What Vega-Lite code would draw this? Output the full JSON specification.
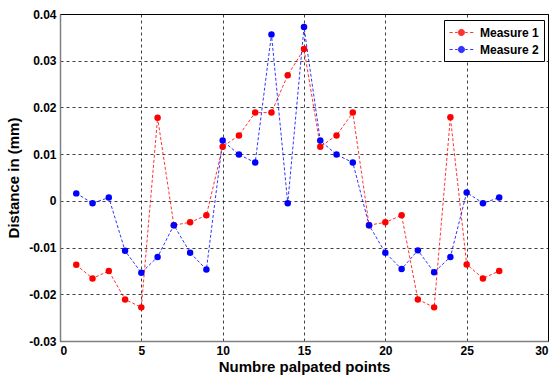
{
  "$schema": "https://vega.github.io/schema/vega-lite/v6.json",
  "width": 488,
  "height": 327,
  "autosize": {"type": "none"},
  "padding": {"left": 60, "top": 14, "right": 9, "bottom": 42},
  "background": "white",
  "config": {
    "font": "Liberation Sans",
    "view": {"stroke": "#000000", "strokeWidth": 1},
    "axis": {
      "labelFont": "Liberation Sans",
      "labelFontWeight": "bold",
      "labelFontSize": 12,
      "labelColor": "#000000",
      "titleFont": "Liberation Sans",
      "titleFontWeight": "bold",
      "titleFontSize": 15,
      "titleColor": "#000000",
      "domainColor": "#808080",
      "domainWidth": 1.5,
      "ticks": false,
      "grid": true,
      "gridColor": "#000000",
      "gridDash": [3, 3],
      "gridOpacity": 0.75,
      "gridWidth": 1
    }
  },
  "data": {
    "values": [
      {"x": 1, "y": -0.0137, "series": "Measure 1"},
      {"x": 2, "y": -0.0166, "series": "Measure 1"},
      {"x": 3, "y": -0.0150, "series": "Measure 1"},
      {"x": 4, "y": -0.0211, "series": "Measure 1"},
      {"x": 5, "y": -0.0228, "series": "Measure 1"},
      {"x": 6, "y": 0.0178, "series": "Measure 1"},
      {"x": 7, "y": -0.0052, "series": "Measure 1"},
      {"x": 8, "y": -0.0046, "series": "Measure 1"},
      {"x": 9, "y": -0.0031, "series": "Measure 1"},
      {"x": 10, "y": 0.0116, "series": "Measure 1"},
      {"x": 11, "y": 0.0140, "series": "Measure 1"},
      {"x": 12, "y": 0.0189, "series": "Measure 1"},
      {"x": 13, "y": 0.0189, "series": "Measure 1"},
      {"x": 14, "y": 0.0269, "series": "Measure 1"},
      {"x": 15, "y": 0.0325, "series": "Measure 1"},
      {"x": 16, "y": 0.0116, "series": "Measure 1"},
      {"x": 17, "y": 0.0140, "series": "Measure 1"},
      {"x": 18, "y": 0.0189, "series": "Measure 1"},
      {"x": 19, "y": -0.0052, "series": "Measure 1"},
      {"x": 20, "y": -0.0046, "series": "Measure 1"},
      {"x": 21, "y": -0.0031, "series": "Measure 1"},
      {"x": 22, "y": -0.0211, "series": "Measure 1"},
      {"x": 23, "y": -0.0228, "series": "Measure 1"},
      {"x": 24, "y": 0.0179, "series": "Measure 1"},
      {"x": 25, "y": -0.0136, "series": "Measure 1"},
      {"x": 26, "y": -0.0166, "series": "Measure 1"},
      {"x": 27, "y": -0.0150, "series": "Measure 1"},
      {"x": 1, "y": 0.0016, "series": "Measure 2"},
      {"x": 2, "y": -0.0005, "series": "Measure 2"},
      {"x": 3, "y": 0.0007, "series": "Measure 2"},
      {"x": 4, "y": -0.0107, "series": "Measure 2"},
      {"x": 5, "y": -0.0154, "series": "Measure 2"},
      {"x": 6, "y": -0.0120, "series": "Measure 2"},
      {"x": 7, "y": -0.0052, "series": "Measure 2"},
      {"x": 8, "y": -0.0111, "series": "Measure 2"},
      {"x": 9, "y": -0.0147, "series": "Measure 2"},
      {"x": 10, "y": 0.0129, "series": "Measure 2"},
      {"x": 11, "y": 0.0099, "series": "Measure 2"},
      {"x": 12, "y": 0.0082, "series": "Measure 2"},
      {"x": 13, "y": 0.0356, "series": "Measure 2"},
      {"x": 14, "y": -0.0005, "series": "Measure 2"},
      {"x": 15, "y": 0.0372, "series": "Measure 2"},
      {"x": 16, "y": 0.0129, "series": "Measure 2"},
      {"x": 17, "y": 0.0099, "series": "Measure 2"},
      {"x": 18, "y": 0.0082, "series": "Measure 2"},
      {"x": 19, "y": -0.0052, "series": "Measure 2"},
      {"x": 20, "y": -0.0111, "series": "Measure 2"},
      {"x": 21, "y": -0.0146, "series": "Measure 2"},
      {"x": 22, "y": -0.0106, "series": "Measure 2"},
      {"x": 23, "y": -0.0153, "series": "Measure 2"},
      {"x": 24, "y": -0.0120, "series": "Measure 2"},
      {"x": 25, "y": 0.0018, "series": "Measure 2"},
      {"x": 26, "y": -0.0005, "series": "Measure 2"},
      {"x": 27, "y": 0.0007, "series": "Measure 2"}
    ]
  },
  "encoding": {
    "x": {
      "field": "x",
      "type": "quantitative",
      "scale": {"domain": [0, 30], "nice": false, "zero": false},
      "axis": {"values": [0, 5, 10, 15, 20, 25, 30], "title": "Numbre palpated points", "labelPadding": 4, "titlePadding": 3}
    },
    "y": {
      "field": "y",
      "type": "quantitative",
      "scale": {"domain": [-0.03, 0.04], "nice": false, "zero": false},
      "axis": {
        "values": [-0.03, -0.02, -0.01, 0, 0.01, 0.02, 0.03, 0.04],
        "labelExpr": "abs(datum.value) < 1e-9 ? '0' : replace(format(datum.value, '.2f'), '\u2212', '-')",
        "title": "Distance in (mm)",
        "labelPadding": 4,
        "titlePadding": 7
      }
    },
    "color": {
      "field": "series",
      "type": "nominal",
      "scale": {"domain": ["Measure 1", "Measure 2"], "range": ["#ff0000", "#0000ff"]},
      "legend": {
        "title": null,
        "orient": "none",
        "legendX": 384,
        "legendY": 6,
        "fillColor": "white",
        "strokeColor": "#000000",
        "padding": 5,
        "labelFont": "Liberation Sans",
        "labelFontWeight": "bold",
        "labelFontSize": 12,
        "labelColor": "#000000",
        "labelOffset": 16,
        "rowPadding": 3,
        "symbolSize": 196,
        "symbolStrokeWidth": 1,
        "symbolType": "M-1,0H-0.55M-0.2,0H0.15M1.25,0H1.6M1.95,0H2.4M1.15,0A0.45,0.45 0 1,1 0.25,0A0.45,0.45 0 1,1 1.15,0Z",
        "encode": {
          "symbols": {
            "update": {
              "fill": {"scale": "color", "field": "value"},
              "stroke": {"scale": "color", "field": "value"},
              "strokeDash": {"value": []},
              "opacity": {"value": 1}
            }
          }
        }
      }
    }
  },
  "layer": [
    {
      "mark": {"type": "line", "strokeDash": [3, 2], "strokeWidth": 1, "opacity": 0.8}
    },
    {
      "mark": {"type": "point", "filled": true, "shape": "circle", "size": 42, "opacity": 1}
    }
  ]
}
